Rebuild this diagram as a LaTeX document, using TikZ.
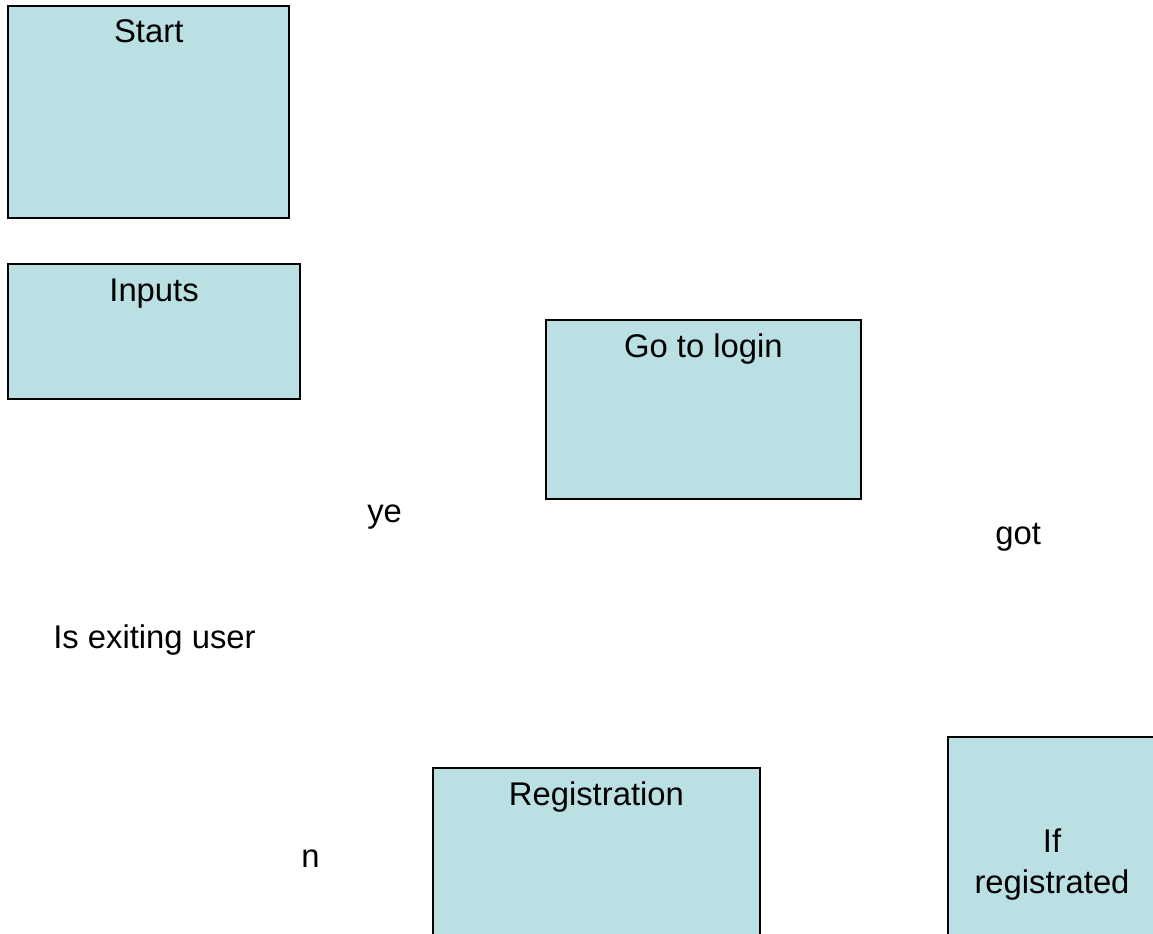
\documentclass[tikz,border=0pt]{standalone}
\usepackage{fontspec}
\setmainfont{Liberation Sans}
\usetikzlibrary{positioning}

\definecolor{boxblue}{RGB}{187,224,227}

\begin{document}
\begin{tikzpicture}[x=0.75pt, y=-0.75pt,
		font=\fontsize{24.6}{30.75}\selectfont,
		box/.style={draw=black, line width=1.6pt, fill=boxblue, rectangle, anchor=north west, inner sep=0pt},
		title/.style={anchor=base, yshift=-28.5pt},
		word/.style={anchor=base west, inner sep=0pt}]
			\useasboundingbox (0,0) rectangle (1153,934);
			\node[box, minimum width=211pt, minimum height=159pt] (start) at (7,5)
				[label={[title]north:Start}] {};
			\node[box, minimum width=219pt, minimum height=101pt] (inputs) at (7,263)
				[label={[title]north:Inputs}] {};
			\node[box, minimum width=236pt, minimum height=134pt] (login) at (545,319)
				[label={[title]north:Go to login}] {};
			\node[box, minimum width=245pt, minimum height=150pt] (registration) at (432,767)
				[label={[title]north:Registration}] {};
			\node[box, minimum width=210pt, minimum height=180pt] (registrated) at (947,736) {};
			% base of a two-line node is the baseline of its last line
			\node[align=center, anchor=base, inner sep=0pt] (iflabel) at (1052,893) {If\\registrated};

			\node[word] (yes) at (367,522) {ye};
			\node[word] (got) at (995,544) {got};
			\node[word] (exiting) at (53,648) {Is exiting user};
			\node[word] (no) at (301,867) {n};
		\end{tikzpicture}
\end{document}
